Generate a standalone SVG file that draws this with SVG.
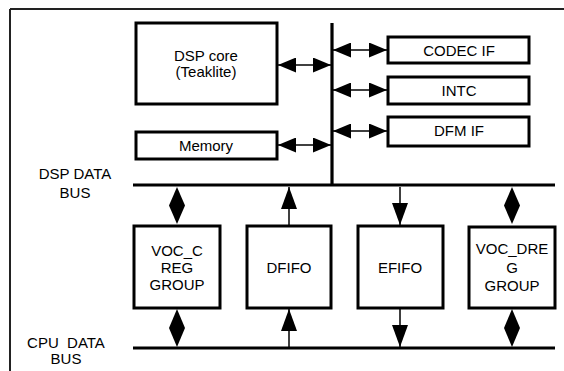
<svg xmlns="http://www.w3.org/2000/svg" width="564" height="371" viewBox="0 0 564 371">
<style>
.box{fill:#fff;stroke:#000;stroke-width:3}
.bus{stroke:#000;stroke-width:3.2;fill:none}
.ln{stroke:#000;stroke-width:1.5;fill:none}
.hd{fill:#000;stroke:none}
text{font-family:"Liberation Sans",Arial,sans-serif;font-size:15px;fill:#000;text-anchor:middle}
</style>
<defs>
<marker id="ah" viewBox="0 0 18 15" refX="18" refY="7.5" markerWidth="18" markerHeight="15" markerUnits="userSpaceOnUse" orient="auto-start-reverse">
<path d="M0,0 L18,7.5 L0,15 z" fill="#000"/>
</marker>
<marker id="vh" viewBox="0 0 22 16" refX="22" refY="8" markerWidth="22" markerHeight="16" markerUnits="userSpaceOnUse" orient="auto">
<path d="M0,0 L22,8 L0,16 z" fill="#000"/>
</marker>
</defs>
<g id="frame">
<path d="M10,9 H564 M10,9 V371" stroke="#222" stroke-width="2" fill="none"/>
</g>
<g id="connectors">
<line class="bus" x1="332" y1="23" x2="332" y2="186"/>
<line class="bus" x1="133" y1="185" x2="555" y2="185"/>
<line class="bus" x1="133" y1="348" x2="555" y2="348"/>
<line class="ln" x1="278" y1="65" x2="331" y2="65" marker-start="url(#ah)" marker-end="url(#ah)"/>
<line class="ln" x1="278" y1="145" x2="331" y2="145" marker-start="url(#ah)" marker-end="url(#ah)"/>
<line class="ln" x1="333" y1="50" x2="387" y2="50" marker-start="url(#ah)" marker-end="url(#ah)"/>
<line class="ln" x1="333" y1="90" x2="387" y2="90" marker-start="url(#ah)" marker-end="url(#ah)"/>
<line class="ln" x1="333" y1="131" x2="387" y2="131" marker-start="url(#ah)" marker-end="url(#ah)"/>
<polygon class="hd" points="177,187 185,205.5 177,224 169,205.5"/>
<polygon class="hd" points="177,309 185,328 177,347 169,328"/>
<polygon class="hd" points="512,187 520,205.5 512,224 504,205.5"/>
<polygon class="hd" points="512,309 520,328 512,347 504,328"/>
<line class="ln" x1="289" y1="225" x2="289" y2="187" marker-end="url(#vh)"/>
<line class="ln" x1="289" y1="347" x2="289" y2="309" marker-end="url(#vh)"/>
<line class="ln" x1="400" y1="187" x2="400" y2="225" marker-end="url(#vh)"/>
<line class="ln" x1="400" y1="309" x2="400" y2="347" marker-end="url(#vh)"/>
</g>
<g id="dsp-core">
<rect class="box" x="136" y="23" width="141" height="81"/>
<text x="206" y="61">DSP core</text>
<text x="206" y="77">(Teaklite)</text>
</g>
<g id="memory">
<rect class="box" x="136" y="132" width="141" height="27"/>
<text x="206" y="151">Memory</text>
</g>
<g id="codec-if">
<rect class="box" x="388" y="37" width="141" height="26"/>
<text x="459" y="56">CODEC IF</text>
</g>
<g id="intc">
<rect class="box" x="388" y="77" width="141" height="27"/>
<text x="459" y="96">INTC</text>
</g>
<g id="dfm-if">
<rect class="box" x="388" y="117" width="141" height="29"/>
<text x="459" y="136">DFM IF</text>
</g>
<g id="dsp-data-bus-label">
<text x="75" y="179">DSP DATA</text>
<text x="75" y="198">BUS</text>
</g>
<g id="cpu-data-bus-label">
<text x="66" y="348" xml:space="preserve">CPU  DATA</text>
<text x="66" y="364">BUS</text>
</g>
<g id="voc-creg">
<rect class="box" x="134" y="226" width="86" height="82"/>
<text x="177" y="256">VOC_C</text>
<text x="177" y="273">REG</text>
<text x="177" y="290">GROUP</text>
</g>
<g id="dfifo">
<rect class="box" x="247" y="226" width="84" height="82"/>
<text x="289" y="273">DFIFO</text>
</g>
<g id="efifo">
<rect class="box" x="358" y="226" width="85" height="82"/>
<text x="400" y="273">EFIFO</text>
</g>
<g id="voc-dreg">
<rect class="box" x="469" y="227" width="86" height="81"/>
<text x="512" y="254">VOC_DRE</text>
<text x="512" y="273">G</text>
<text x="512" y="291">GROUP</text>
</g>
</svg>
